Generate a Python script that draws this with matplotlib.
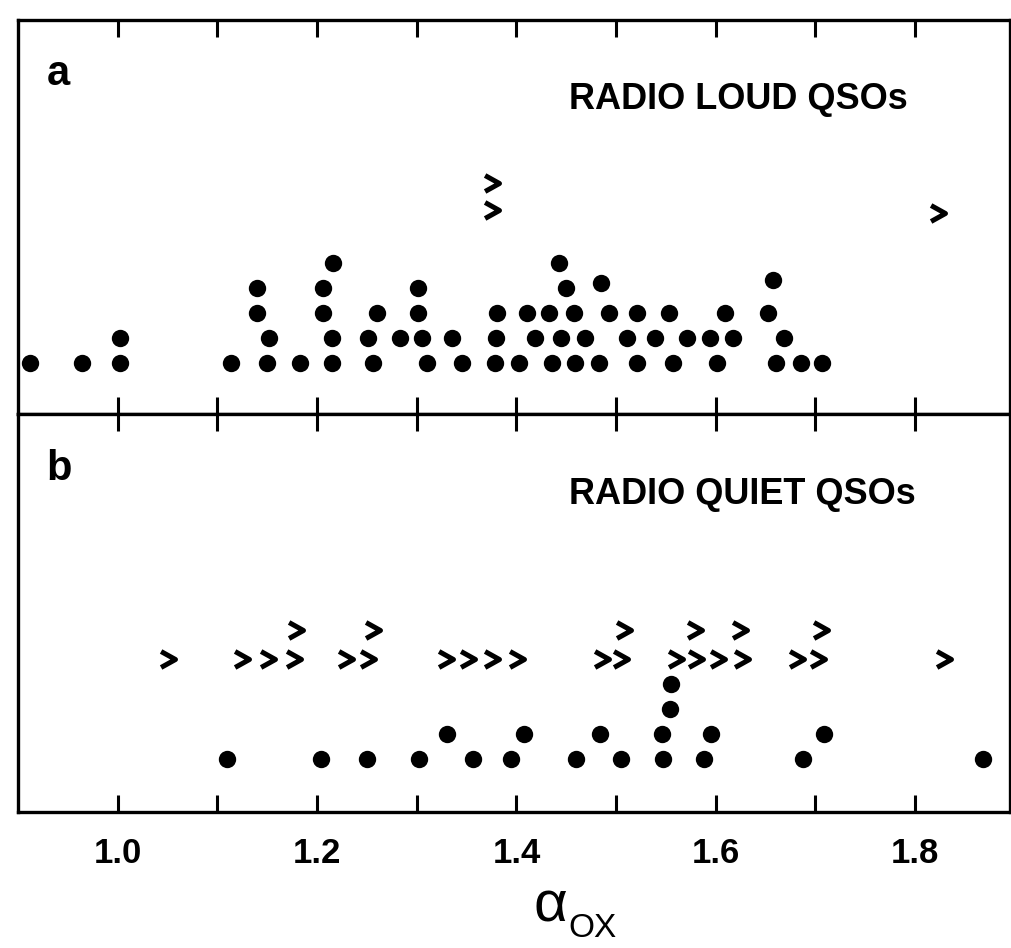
import matplotlib

matplotlib.use("Agg")
import matplotlib.pyplot as plt
from matplotlib.path import Path

plt.rcParams["font.family"] = ["Liberation Sans", "DejaVu Sans"]

# panel a: radio loud QSOs (alpha_ox, stacking level)
loud_alpha = [
    0.912, 0.964, 1.002, 1.114, 1.150, 1.183, 1.215, 1.256, 1.310, 1.345, 1.379,
    1.403, 1.436, 1.459, 1.483, 1.521, 1.557, 1.601, 1.660, 1.686, 1.707,
    1.002, 1.152, 1.215, 1.251, 1.283, 1.305, 1.335, 1.380, 1.419, 1.445, 1.469,
    1.511, 1.539, 1.571, 1.594, 1.617, 1.668,
    1.140, 1.206, 1.260, 1.301, 1.381, 1.411, 1.433, 1.458, 1.493, 1.521, 1.553,
    1.609, 1.652,
    1.140, 1.206, 1.301, 1.450, 1.485, 1.657,
    1.216, 1.443,
]
loud_level = [1] * 21 + [2] * 17 + [3] * 13 + [4, 4, 4, 4, 4.2, 4.3] + [5, 5]

loud_lim_alpha = [1.375, 1.375, 1.822]
loud_lim_level = [7.1, 8.2, 7.0]

# panel b: radio quiet QSOs
quiet_alpha = [
    1.110, 1.204, 1.250, 1.302, 1.356, 1.395, 1.460, 1.505, 1.547, 1.588, 1.688, 1.868,
    1.330, 1.408, 1.484, 1.546, 1.595, 1.709,
    1.554,
    1.555,
]
quiet_level = [1] * 12 + [2] * 6 + [3] + [4]

quiet_lim_alpha = [
    1.049, 1.124, 1.150, 1.176, 1.228, 1.250, 1.328, 1.350, 1.375, 1.400,
    1.485, 1.504, 1.559, 1.579, 1.601, 1.625, 1.681, 1.702, 1.828,
    1.178, 1.255, 1.507, 1.578, 1.623, 1.705,
]
quiet_lim_level = [5.0] * 19 + [6.15] * 6

tick_values = [1.0, 1.1, 1.2, 1.3, 1.4, 1.5, 1.6, 1.7, 1.8]
tick_labels = ["1.0", "", "1.2", "", "1.4", "", "1.6", "", "1.8"]

CHEVRON = Path([(-0.8, 1.0), (1.0, 0.0), (-0.8, -1.0)],
               [Path.MOVETO, Path.LINETO, Path.LINETO])


def draw_panel(ax, alpha, level, lim_alpha, lim_level, letter, title, ylim):
    ax.plot(alpha, level, linestyle="none", marker="o", markersize=12.5,
            color="black", markeredgewidth=0)
    ax.plot(lim_alpha, lim_level, linestyle="none", marker=CHEVRON, markersize=11.5,
            markerfacecolor="none", markeredgecolor="black", markeredgewidth=3.6)
    ax.set_xlim(0.9, 1.895)
    ax.set_ylim(*ylim)
    ax.set_yticks([])
    ax.set_xticks(tick_values)
    ax.tick_params(axis="x", direction="in", length=12, width=2.2,
                   top=True, bottom=True, labelbottom=False)
    for spine in ax.spines.values():
        spine.set_linewidth(2.4)
    ax.text(0.029, 0.835, letter, transform=ax.transAxes, fontsize=30,
            fontweight="bold", va="baseline", ha="left")
    ax.text(0.556, 0.775, title, transform=ax.transAxes, fontsize=26,
            fontweight="bold", va="baseline", ha="left")


fig = plt.figure(figsize=(10.12, 9.48), dpi=100)
ax_top = fig.add_axes([0.0178, 0.5633, 0.980, 0.4156])
ax_bot = fig.add_axes([0.0178, 0.1435, 0.980, 0.4198])

draw_panel(ax_top, loud_alpha, loud_level, loud_lim_alpha, loud_lim_level,
           "a", "RADIO LOUD QSOs", (-1.04, 14.72))
draw_panel(ax_bot, quiet_alpha, quiet_level, quiet_lim_alpha, quiet_lim_level,
           "b", "RADIO QUIET QSOs", (-1.12, 14.8))

ax_bot.tick_params(axis="x", labelbottom=True, pad=18, labelsize=25)
ax_bot.set_xticklabels(tick_labels, fontweight="bold")

# axis label: alpha with OX subscript
fig.text(567 / 1012, 1 - 922 / 948, "α", fontsize=42, ha="right", va="baseline")
fig.text(568 / 1012, 1 - 937 / 948, "OX", fontsize=24, ha="left", va="baseline")

fig.savefig("out.png", dpi=100)
